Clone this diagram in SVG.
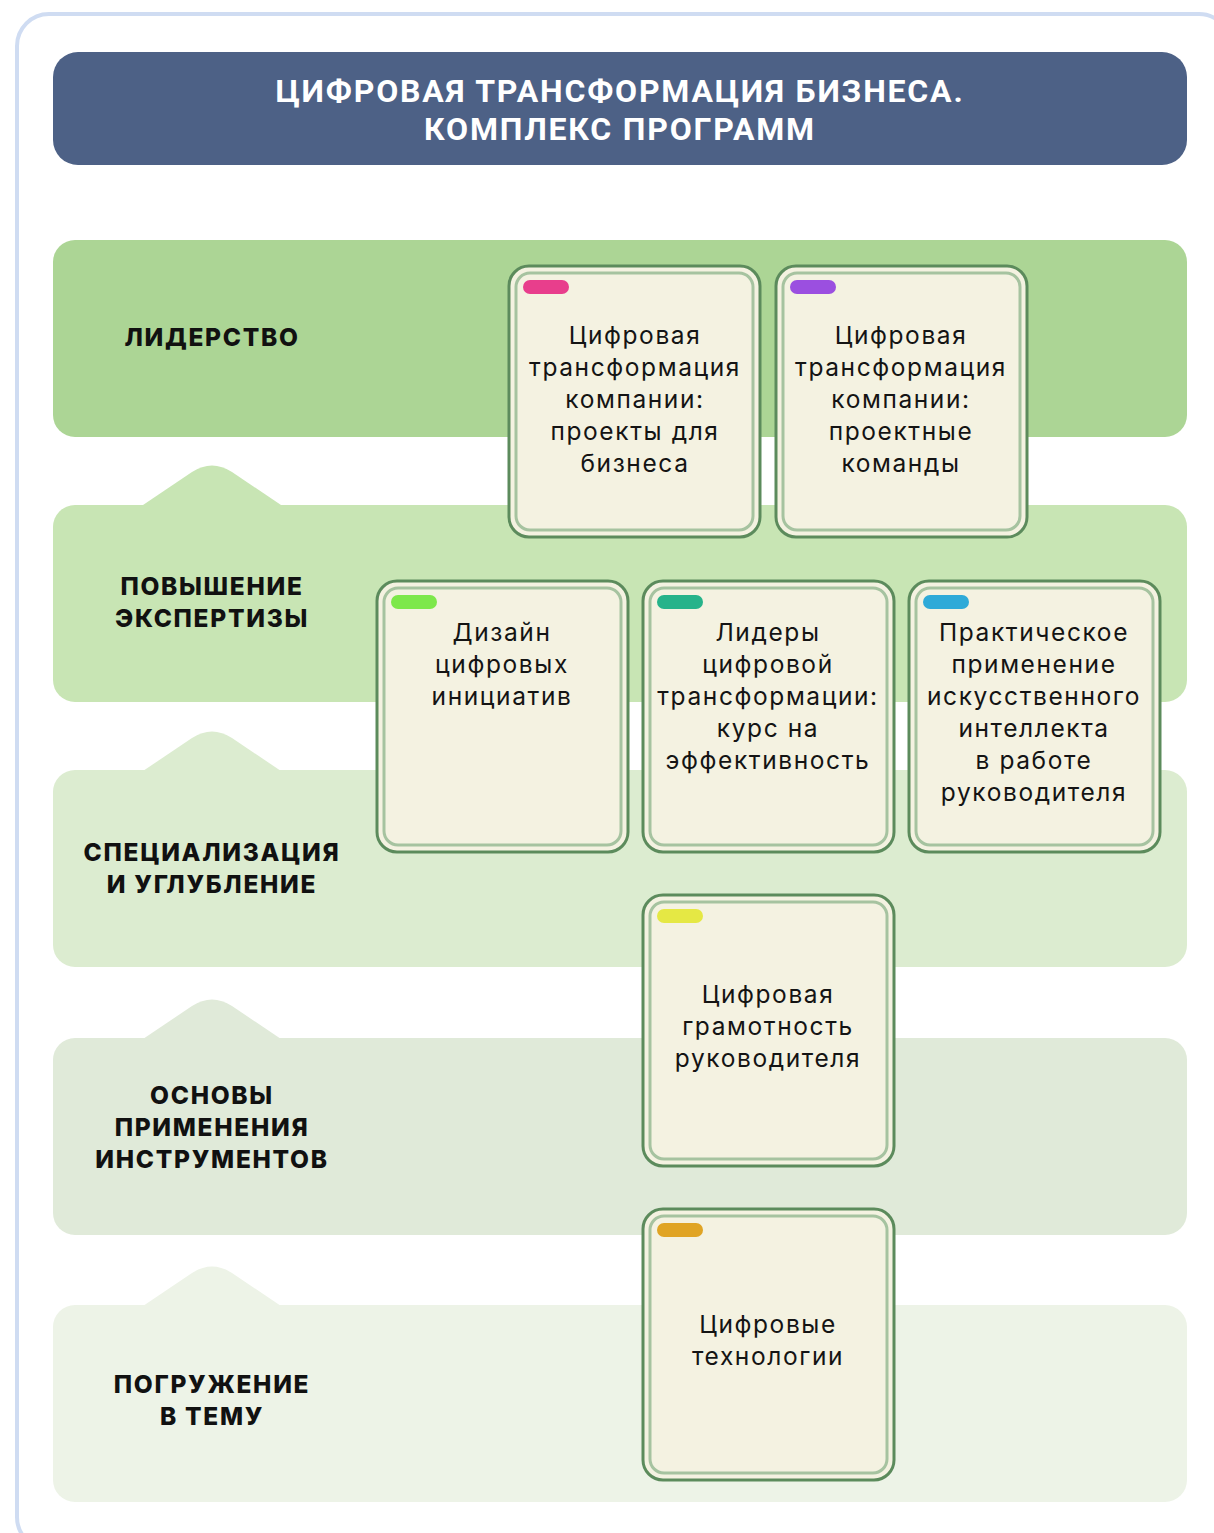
<svg xmlns="http://www.w3.org/2000/svg" width="1214" height="1533" viewBox="0 0 1214 1533">
<defs>
<style>
.title{font-family:Roboto,"Liberation Sans",sans-serif;font-weight:700;font-size:32px;fill:#ffffff;letter-spacing:1.8px;text-anchor:middle}
.lab{font-family:Inter,"Liberation Sans",sans-serif;font-weight:800;font-size:24.5px;fill:#111111;letter-spacing:1.7px;text-anchor:middle}
.ct{font-family:Inter,"Liberation Sans",sans-serif;font-weight:400;font-size:24.5px;fill:#141414;letter-spacing:1.6px;text-anchor:middle}
.outer{fill:#f4f2e1;stroke:#5c8b5c;stroke-width:3}
.inner{fill:none;stroke:#a6c3a0;stroke-width:3}
</style>
<g id="card">
<rect class="outer" x="0" y="0" width="251" height="271" rx="20"/>
<rect class="inner" x="7" y="7" width="237" height="257" rx="14"/>
</g>
</defs>
<rect x="0" y="0" width="1214" height="1533" fill="#ffffff"/>
<rect id="frame" x="17" y="14" width="1214" height="1535" rx="32" fill="#ffffff" stroke="#cfdcf2" stroke-width="4"/>
<g id="header">
<rect x="53" y="52" width="1134" height="113" rx="25" fill="#4d6186"/>
<text class="title" x="620" y="102">ЦИФРОВАЯ ТРАНСФОРМАЦИЯ БИЗНЕСА.</text>
<text class="title" x="620" y="140">КОМПЛЕКС ПРОГРАММ</text>
</g>
<g id="band-leadership">
<rect x="53" y="240" width="1134" height="197" rx="22" fill="#acd595"/>
<text class="lab" x="212" y="346">ЛИДЕРСТВО</text>
</g>
<g id="band-expertise">
<path d="M143 505 L192 472 Q212 459 232 472 L281 505 Z" fill="#c8e5b4"/>
<rect x="53" y="505" width="1134" height="197" rx="22" fill="#c8e5b4"/>
<text class="lab" x="212" y="595">ПОВЫШЕНИЕ</text>
<text class="lab" x="212" y="627">ЭКСПЕРТИЗЫ</text>
</g>
<g id="band-specialization">
<path d="M143 771 L192 738 Q212 725 232 738 L281 771 Z" fill="#dcecd0"/>
<rect x="53" y="770" width="1134" height="197" rx="22" fill="#dcecd0"/>
<text class="lab" x="212" y="861">СПЕЦИАЛИЗАЦИЯ</text>
<text class="lab" x="212" y="893">И УГЛУБЛЕНИЕ</text>
</g>
<g id="band-basics">
<path d="M143 1039 L192 1006 Q212 993 232 1006 L281 1039 Z" fill="#e0ead9"/>
<rect x="53" y="1038" width="1134" height="197" rx="22" fill="#e0ead9"/>
<text class="lab" x="212" y="1104">ОСНОВЫ</text>
<text class="lab" x="212" y="1136">ПРИМЕНЕНИЯ</text>
<text class="lab" x="212" y="1168">ИНСТРУМЕНТОВ</text>
</g>
<g id="band-immersion">
<path d="M143 1306 L192 1273 Q212 1260 232 1273 L281 1306 Z" fill="#edf3e7"/>
<rect x="53" y="1305" width="1134" height="197" rx="22" fill="#edf3e7"/>
<text class="lab" x="212" y="1393">ПОГРУЖЕНИЕ</text>
<text class="lab" x="212" y="1425">В ТЕМУ</text>
</g>
<g id="connectors"></g>
<g id="node-c1">
<use href="#card" x="509" y="266"/>
<rect x="523" y="280" width="46" height="14" rx="7" fill="#e83e8c"/>
<text class="ct" x="635" y="344">Цифровая</text>
<text class="ct" x="635" y="376">трансформация</text>
<text class="ct" x="635" y="408">компании:</text>
<text class="ct" x="635" y="440">проекты для</text>
<text class="ct" x="635" y="472">бизнеса</text>
</g>
<g id="node-c2">
<use href="#card" x="776" y="266"/>
<rect x="790" y="280" width="46" height="14" rx="7" fill="#9b4fe0"/>
<text class="ct" x="901" y="344">Цифровая</text>
<text class="ct" x="901" y="376">трансформация</text>
<text class="ct" x="901" y="408">компании:</text>
<text class="ct" x="901" y="440">проектные</text>
<text class="ct" x="901" y="472">команды</text>
</g>
<g id="node-c3">
<use href="#card" x="377" y="581"/>
<rect x="391" y="595" width="46" height="14" rx="7" fill="#7de84a"/>
<text class="ct" x="502" y="641">Дизайн</text>
<text class="ct" x="502" y="673">цифровых</text>
<text class="ct" x="502" y="705">инициатив</text>
</g>
<g id="node-c4">
<use href="#card" x="643" y="581"/>
<rect x="657" y="595" width="46" height="14" rx="7" fill="#26b38a"/>
<text class="ct" x="768" y="641">Лидеры</text>
<text class="ct" x="768" y="673">цифровой</text>
<text class="ct" x="768" y="705">трансформации:</text>
<text class="ct" x="768" y="737">курс на</text>
<text class="ct" x="768" y="769">эффективность</text>
</g>
<g id="node-c5">
<use href="#card" x="909" y="581"/>
<rect x="923" y="595" width="46" height="14" rx="7" fill="#2eaad8"/>
<text class="ct" x="1034" y="641">Практическое</text>
<text class="ct" x="1034" y="673">применение</text>
<text class="ct" x="1034" y="705">искусственного</text>
<text class="ct" x="1034" y="737">интеллекта</text>
<text class="ct" x="1034" y="769">в работе</text>
<text class="ct" x="1034" y="801">руководителя</text>
</g>
<g id="node-c6">
<use href="#card" x="643" y="895"/>
<rect x="657" y="909" width="46" height="14" rx="7" fill="#e5e844"/>
<text class="ct" x="768" y="1003">Цифровая</text>
<text class="ct" x="768" y="1035">грамотность</text>
<text class="ct" x="768" y="1067">руководителя</text>
</g>
<g id="node-c7">
<use href="#card" x="643" y="1209"/>
<rect x="657" y="1223" width="46" height="14" rx="7" fill="#e0a424"/>
<text class="ct" x="768" y="1333">Цифровые</text>
<text class="ct" x="768" y="1365">технологии</text>
</g>
</svg>
